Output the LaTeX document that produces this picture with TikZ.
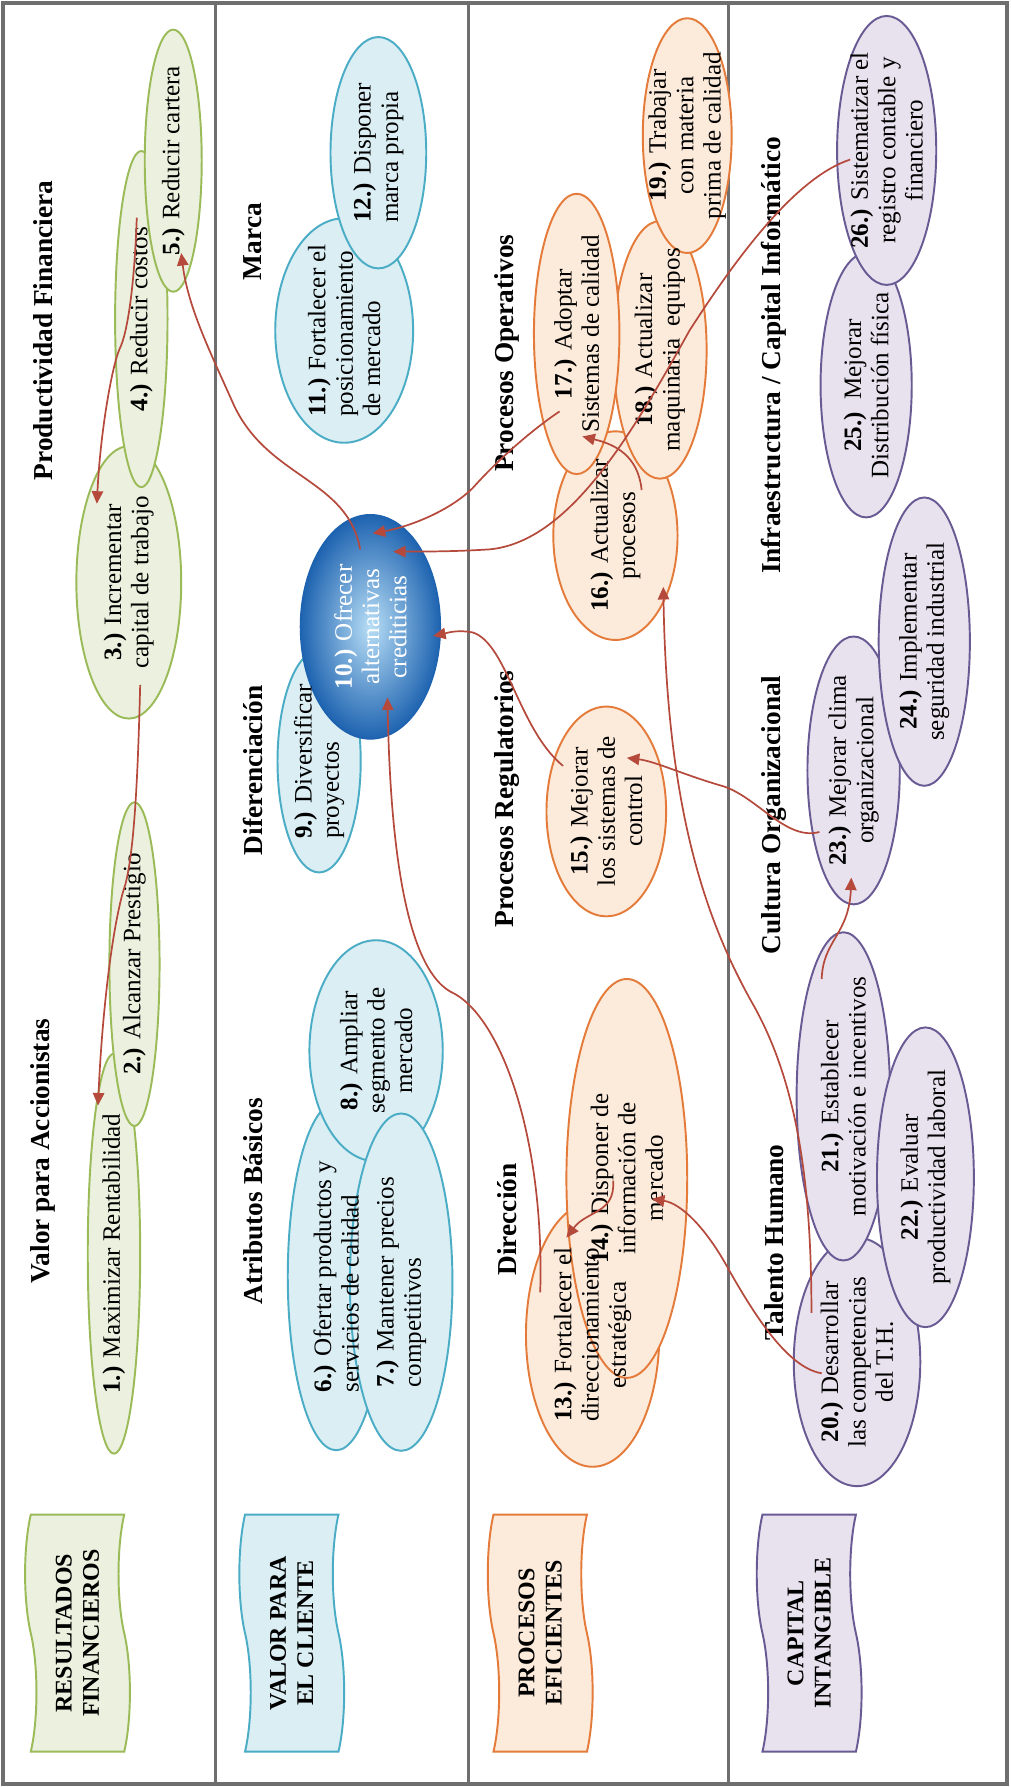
\documentclass[tikz,border=0pt]{standalone}
\usepackage{fontspec}
\setmainfont{Liberation Serif}
\usetikzlibrary{shapes.geometric,shapes.symbols,arrows.meta}
\definecolor{grnB}{HTML}{9BBB59}
\definecolor{grnF}{HTML}{EBF1DE}
\definecolor{cyaB}{HTML}{4BACC6}
\definecolor{cyaF}{HTML}{DAEEF3}
\definecolor{orgB}{HTML}{E47B3A}
\definecolor{orgF}{HTML}{FCEBDB}
\definecolor{purB}{HTML}{6A5A94}
\definecolor{purF}{HTML}{E7E2EE}
\definecolor{arrC}{HTML}{B5493B}
\definecolor{frameC}{HTML}{6E6E6E}
\definecolor{blueD}{HTML}{1E63B0}
\definecolor{blueL}{HTML}{B8DEF6}
\begin{document}
\begin{tikzpicture}[x=1pt,y=-1pt,
  oval/.style={ellipse, line width=1.7pt, inner sep=0pt, rotate=90},
  gE/.style={oval, draw=grnB, fill=grnF},
  cE/.style={oval, draw=cyaB, fill=cyaF},
  oE/.style={oval, draw=orgB, fill=orgF},
  pE/.style={oval, draw=purB, fill=purF},
  lbl/.style={rotate=90, inner sep=0pt, align=center, font=\fontsize{22}{24}\selectfont},
  lbll/.style={lbl, align=left},
  hdr/.style={rotate=90, inner sep=0pt, font=\fontsize{24}{28}\selectfont\bfseries},
  ttl/.style={tape, rotate=90, line width=1.7pt, minimum width=208pt, minimum height=92pt,
    inner sep=0pt, tape bend height=10pt, align=center, font=\fontsize{21}{24}\selectfont\bfseries},
  arr/.style={draw=arrC, line width=1.5pt, -{Triangle[length=11pt,width=10pt]}},
  band/.style={draw=frameC, line width=2.6pt},
]
\path[use as bounding box] (0,0) rectangle (887,1568);
\fill[white] (0,0) rectangle (887,1568);

% frame and row separators
\draw[draw=frameC, line width=3.5pt] (3,3) rectangle (884,1565);
\draw[band] (189,3) -- (189,1565);
\draw[band] (411,3) -- (411,1565);
\draw[band] (639,3) -- (639,1565);

% ---- Resultados financieros
\node[gE, minimum width=351pt, minimum height=46pt] (e1) at (100,1100) {};
\node[gE, minimum width=284pt, minimum height=44pt] (e2) at (118,846) {};
\node[gE, minimum width=239pt, minimum height=92pt] (e3) at (113,511) {};
\node[gE, minimum width=295pt, minimum height=46pt] (e4) at (124,280) {};
\node[gE, minimum width=230pt, minimum height=50pt] (e5) at (152,141) {};

% ---- Valor para el cliente
\node[cE, minimum width=197pt, minimum height=121pt] (e11) at (302,290) {};
\node[cE, minimum width=203pt, minimum height=84pt] (e12) at (332,134) {};
\node[cE, minimum width=195pt, minimum height=73pt] (e9) at (280,668) {};
\node[oval, draw=blueD, line width=1pt, shade, shading=radial, inner color=blueL, outer color=blueD,
      minimum width=197pt, minimum height=123pt] (e10) at (325,550) {};
\node[cE, minimum width=305pt, minimum height=85pt] (e6) at (295,1120) {};
\node[cE, minimum width=194pt, minimum height=117pt] (e8) at (330,922) {};
\node[cE, minimum width=296pt, minimum height=90pt] (e7) at (352,1125) {};

% ---- Procesos eficientes
\node[oE, minimum width=183pt, minimum height=109pt] (e16) at (540,470) {};
\node[oE, minimum width=226pt, minimum height=82pt] (e18) at (579,307) {};
\node[oE, minimum width=246pt, minimum height=75pt] (e17) at (506,293) {};
\node[oE, minimum width=206pt, minimum height=78pt] (e19) at (603,119) {};
\node[oE, minimum width=184pt, minimum height=105pt] (e15) at (532,712) {};
\node[oE, minimum width=232pt, minimum height=117pt] (e13) at (520,1171) {};
\node[oE, minimum width=350pt, minimum height=106pt] (e14) at (550,1034) {};

% ---- Capital intangible
\node[pE, minimum width=232pt, minimum height=80pt] (e25) at (760,338) {};
\node[pE, minimum width=236pt, minimum height=87pt] (e26) at (778,132) {};
\node[pE, minimum width=235pt, minimum height=81pt] (e23) at (749,676) {};
\node[pE, minimum width=253pt, minimum height=80pt] (e24) at (811,563) {};
\node[pE, minimum width=218pt, minimum height=111pt] (e20) at (752,1195) {};
\node[pE, minimum width=288pt, minimum height=82pt] (e21) at (740,962) {};
\node[pE, minimum width=263pt, minimum height=85pt] (e22) at (812,1033) {};

% ---- perspective banners
\node[ttl, draw=grnB, fill=grnF] (b1) at (68,1433) {RESULTADOS\\FINANCIEROS};
\node[ttl, draw=cyaB, fill=cyaF] (b2) at (256,1433) {VALOR PARA\\EL CLIENTE};
\node[ttl, draw=orgB, fill=orgF] (b3) at (474,1433) {PROCESOS\\EFICIENTES};
\node[ttl, draw=purB, fill=purF] (b4) at (710,1433) {CAPITAL\\INTANGIBLE};

% ---- group headings
\node[hdr] (h1) at (38,290) {Productividad Financiera};
\node[hdr] (h2) at (38,1010) {Valor para Accionistas};
\node[hdr] (h3) at (222,212) {Marca};
\node[hdr] (h4) at (222,676) {Diferenciación};
\node[hdr] (h5) at (222,1054) {Atributos Básicos};
\node[hdr] (h6) at (445,310) {Procesos Operativos};
\node[hdr] (h7) at (445,701) {Procesos Regulatorios};
\node[hdr] (h8) at (445,1070) {Dirección};
\node[hdr] (h9) at (679,312) {Infraestructura / Capital Informático};
\node[hdr] (h10) at (679,715) {Cultura Organizacional};
\node[hdr] (h11) at (679,1090) {Talento Humano};

% ---- objective texts
\node[lbl] (t1) at (e1) {\textbf{1.)} Maximizar Rentabilidad};
\node[lbl] (t2) at (e2) {\textbf{2.)} Alcanzar Prestigio};
\node[lbl] (t3) at (e3) {\textbf{3.)} Incrementar\\capital de trabajo};
\node[lbl] (t4) at (e4) {\textbf{4.)} Reducir costos};
\node[lbl] (t5) at (e5) {\textbf{5.)} Reducir cartera};
\node[lbll] (t6) at (e6) {\textbf{6.)} Ofertar productos y\\servicios de calidad};
\node[lbll] (t7) at (e7) {\textbf{7.)} Mantener precios\\competitivos};
\node[lbl] (t8) at (e8) {\textbf{8.)} Ampliar\\segmento de\\mercado};
\node[lbll] (t9) at (e9) {\textbf{9.)} Diversificar\\proyectos};
\node[lbl, text=white] (t10) at (e10) {\textbf{10.)} Ofrecer\\alternativas\\crediticias};
\node[lbll] (t11) at (e11) {\textbf{11.)} Fortalecer el\\posicionamiento\\de mercado};
\node[lbll] (t12) at (e12) {\textbf{12.)} Disponer\\marca propia};
\node[lbl] (t13) at (e13) {\textbf{13.)} Fortalecer el\\direccionamiento\\estratégica};
\node[lbl] (t14) at (e14) {\textbf{14.)} Disponer de\\información de\\mercado};
\node[lbl] (t15) at (e15) {\textbf{15.)} Mejorar\\los sistemas de\\control};
\node[lbl] (t16) at (e16) {\textbf{16.)} Actualizar\\procesos};
\node[lbl] (t17) at (e17) {\textbf{17.)} Adoptar\\Sistemas de calidad};
\node[lbl] (t18) at (e18) {\textbf{18.)} Actualizar\\maquinaria\ \ equipos};
\node[lbl] (t19) at (e19) {\textbf{19.)} Trabajar\\con materia\\prima de calidad};
\node[lbl] (t20) at (e20) {\textbf{20.)} Desarrollar\\las competencias\\del T.H.};
\node[lbl] (t21) at (e21) {\textbf{21.)} Establecer\\motivación e incentivos};
\node[lbl] (t22) at (e22) {\textbf{22.)} Evaluar\\productividad laboral};
\node[lbl] (t23) at (e23) {\textbf{23.)} Mejorar clima\\organizacional};
\node[lbl] (t24) at (e24) {\textbf{24.)} Implementar\\seguridad industrial};
\node[lbl] (t25) at (e25) {\textbf{25.)}\ \ Mejorar\\Distribución física};
\node[lbl] (t26) at (e26) {\textbf{26.)} Sistematizar el\\registro contable y\\financiero};

% ---- cause-effect links
\draw[arr] ([shift={(-4,-89)}]e4.center) .. controls (118,250) and (112,292) .. (105,306)
  .. controls (98,322) and (88,380) .. ([shift={(-28,-69)}]e3.center);
\draw[arr] ([shift={(10,90)}]e3.center) .. controls (121,680) and (118,745) .. (110,776)
  .. controls (100,805) and (90,880) .. ([shift={(-14,-130)}]e1.center);
\draw[arr] ([shift={(-9,-68)}]e10.center) .. controls (305,420) and (235,420) .. (205,355)
  .. controls (185,310) and (165,270) .. ([shift={(7,81)}]e5.center);
\draw[arr] ([shift={(23,-40)}]e16.center) .. controls (560,400) and (540,390) .. ([shift={(5,90)}]e17.center);
\draw[arr] ([shift={(-15,68)}]e17.center) .. controls (470,375) and (440,400) .. (415,428)
  .. controls (395,448) and (360,462) .. ([shift={(2,-82)}]e10.center);
\draw[arr] ([shift={(-32,8)}]e26.center) .. controls (700,155) and (650,220) .. (605,290)
  .. controls (555,380) and (500,475) .. (430,482)
  .. controls (400,484) and (370,484) .. ([shift={(20,-66)}]e10.center);
\draw[arr] ([shift={(-38,-40)}]e15.center) .. controls (455,640) and (445,565) .. (415,555)
  .. controls (400,552) and (390,556) .. ([shift={(55,8)}]e10.center);
\draw[arr] ([shift={(-30,54)}]e23.center) .. controls (690,738) and (665,700) .. (635,690)
  .. controls (600,680) and (575,668) .. ([shift={(18,-47)}]e15.center);
\draw[arr] ([shift={(-19,-103)}]e21.center) .. controls (722,825) and (745,820) .. ([shift={(-2,94)}]e23.center);
\draw[arr] ([shift={(-40,-43)}]e20.center) .. controls (712,1040) and (700,950) .. (660,880)
  .. controls (615,800) and (585,700) .. ([shift={(42,45)}]e16.center);
\draw[arr] ([shift={(-31,10)}]e20.center) .. controls (690,1200) and (660,1150) .. (640,1115)
  .. controls (620,1078) and (598,1056) .. ([shift={(22,18)}]e14.center);
\draw[arr] ([shift={(-12,2)}]e14.center) .. controls (540,1065) and (515,1062) .. ([shift={(-23,-85)}]e13.center);
\draw[arr] ([shift={(-46,-37)}]e13.center) .. controls (478,1000) and (440,890) .. (395,870)
  .. controls (352,845) and (342,720) .. ([shift={(15,62)}]e10.center);
\end{tikzpicture}
\end{document}
